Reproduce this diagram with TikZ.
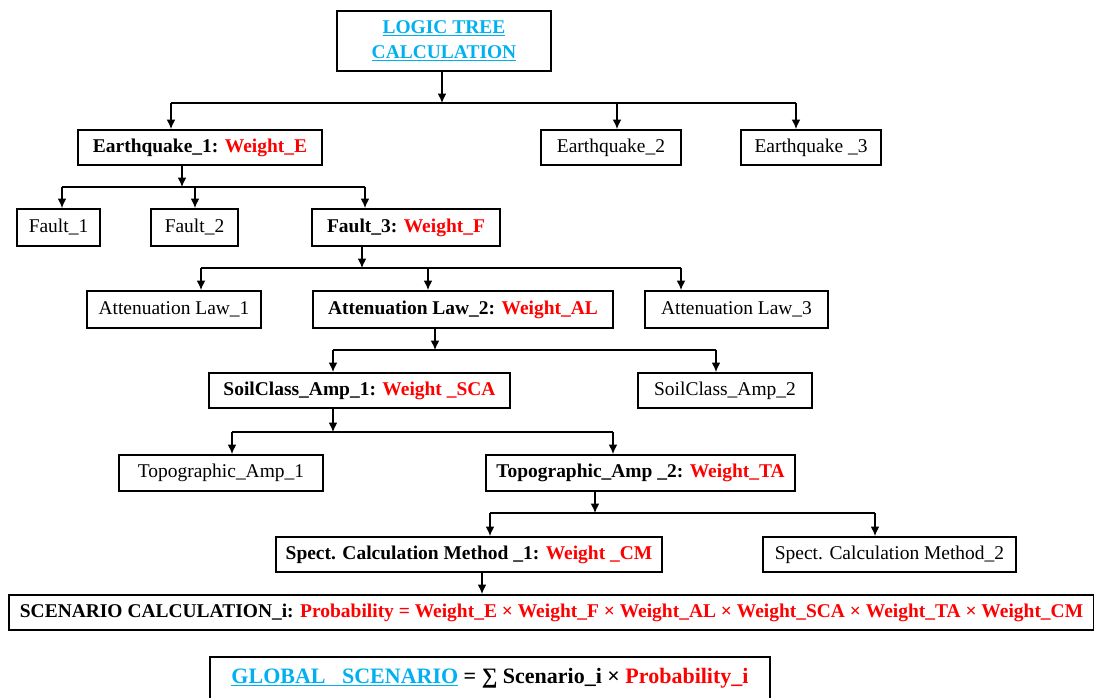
\documentclass[tikz,border=0pt]{standalone}
\usepackage{fontspec}
\setmainfont{Liberation Serif}
\usetikzlibrary{arrows.meta}
\definecolor{wred}{HTML}{FF0000}
\definecolor{tcyan}{HTML}{00B0F0}
\newcommand{\px}{0.75pt}
\newcommand{\wt}[1]{\textcolor{wred}{#1}}

\begin{document}
\begin{tikzpicture}[x=0.75pt,y=-0.75pt,
  box/.style={draw,line width=1.5pt,inner sep=0pt,minimum height=35*\px},
  arr/.style={line width=0.9pt,-{Latex[length=7pt,width=6.5pt]}},
  bus/.style={line width=0.9pt}]
\fontsize{14.6}{17}\selectfont
\useasboundingbox (0,0) rectangle (1094,698);
% Boxes
\node[box,minimum width=214*\px,minimum height=60*\px,align=center,text=tcyan,
  font=\bfseries\fontsize{14.6}{18.5}\selectfont]
  (logic) at (444,41) {\underline{LOGIC TREE}\\\underline{CALCULATION}};
\node[box,minimum width=244*\px] (eq1) at (200,147.5) {\textbf{Earthquake\_1: \wt{Weight\_E}}};
\node[box,minimum width=140*\px] (eq2) at (611,147.5) {Earthquake\_2};
\node[box,minimum width=140*\px] (eq3) at (811,147.5) {Earthquake \_3};
\node[box,minimum width=83*\px,minimum height=37*\px] (f1) at (58.5,227.5) {Fault\_1};
\node[box,minimum width=87*\px,minimum height=37*\px] (f2) at (194.5,227.5) {Fault\_2};
\node[box,minimum width=188*\px,minimum height=37*\px] (f3) at (406,227.5) {\textbf{Fault\_3: \wt{Weight\_F}}};
\node[box,minimum width=174*\px,minimum height=37*\px] (al1) at (174,309.5) {Attenuation Law\_1};
\node[box,minimum width=300*\px,minimum height=37*\px] (al2) at (463,309.5) {\textbf{Attenuation Law\_2: \wt{Weight\_AL}}};
\node[box,minimum width=183*\px,minimum height=37*\px] (al3) at (736.5,309.5) {Attenuation Law\_3};
\node[box,minimum width=301*\px] (sca1) at (359.5,390.5) {\textbf{SoilClass\_Amp\_1: \wt{Weight \_SCA}}};
\node[box,minimum width=174*\px] (sca2) at (725,390.5) {SoilClass\_Amp\_2};
\node[box,minimum width=204*\px,minimum height=36*\px] (ta1) at (221,473) {Topographic\_Amp\_1};
\node[box,minimum width=309*\px,minimum height=36*\px] (ta2) at (640.5,473) {\textbf{Topographic\_Amp \_2: \wt{Weight\_TA}}};
\node[box,minimum width=386*\px] (cm1) at (469,554.5) {\textbf{Spect. Calculation Method \_1: \wt{Weight \_CM}}};
\node[box,minimum width=253*\px] (cm2) at (889.5,554.5) {Spect. Calculation Method\_2};
\node[box,minimum width=1085*\px] (scen) at (551.5,612.5) {\textbf{SCENARIO CALCULATION\_i: \wt{Probability = Weight\_E × Weight\_F × Weight\_AL × Weight\_SCA × Weight\_TA × Weight\_CM}}};
\node[box,minimum width=560*\px,minimum height=42*\px,font=\bfseries\fontsize{16.5}{19}\selectfont]
  (glob) at (490,678) {\textcolor{tcyan}{\underline{GLOBAL\ \ \ SCENARIO}} = ∑ Scenario\_i × \wt{Probability\_i}};
% Logic tree to earthquakes
\coordinate (j0) at (442,103);
\coordinate (e1) at (171,103);
\coordinate (e2) at (617,103);
\coordinate (e3) at (796,103);
\draw[arr] (logic.south -| j0) -- (j0);
\draw[bus] (e1) -- (e3);
\draw[arr] (e1) -- (e1 |- eq1.north);
\draw[arr] (e2) -- (e2 |- eq2.north);
\draw[arr] (e3) -- (e3 |- eq3.north);
% Earthquake_1 to faults
\coordinate (j1) at (182,187);
\coordinate (k1) at (62,187);
\coordinate (k2) at (195,187);
\coordinate (k3) at (365,187);
\draw[arr] (eq1.south -| j1) -- (j1);
\draw[bus] (k1) -- (k3);
\draw[arr] (k1) -- (k1 |- f1.north);
\draw[arr] (k2) -- (k2 |- f2.north);
\draw[arr] (k3) -- (k3 |- f3.north);
% Fault_3 to attenuation laws
\coordinate (j2) at (362,268);
\coordinate (l1) at (201,268);
\coordinate (l2) at (428,268);
\coordinate (l3) at (681,268);
\draw[arr] (f3.south -| j2) -- (j2);
\draw[bus] (l1) -- (l3);
\draw[arr] (l1) -- (l1 |- al1.north);
\draw[arr] (l2) -- (l2 |- al2.north);
\draw[arr] (l3) -- (l3 |- al3.north);
% Attenuation Law_2 to soil classes
\coordinate (j3) at (435,350);
\coordinate (s1) at (333,350);
\coordinate (s2) at (716,350);
\draw[arr] (al2.south -| j3) -- (j3);
\draw[bus] (s1) -- (s2);
\draw[arr] (s1) -- (s1 |- sca1.north);
\draw[arr] (s2) -- (s2 |- sca2.north);
% SoilClass_Amp_1 to topographic
\coordinate (j4) at (333,432);
\coordinate (t1) at (232,432);
\coordinate (t2) at (613,432);
\draw[arr] (sca1.south -| j4) -- (j4);
\draw[bus] (t1) -- (t2);
\draw[arr] (t1) -- (t1 |- ta1.north);
\draw[arr] (t2) -- (t2 |- ta2.north);
% Topographic_Amp_2 to methods
\coordinate (j5) at (595,513);
\coordinate (m1) at (490,513);
\coordinate (m2) at (875,513);
\draw[arr] (ta2.south -| j5) -- (j5);
\draw[bus] (m1) -- (m2);
\draw[arr] (m1) -- (m1 |- cm1.north);
\draw[arr] (m2) -- (m2 |- cm2.north);
% Method_1 to scenario
\coordinate (j6) at (482,0);
\draw[arr] (cm1.south -| j6) -- (scen.north -| j6);
\end{tikzpicture}
\end{document}
